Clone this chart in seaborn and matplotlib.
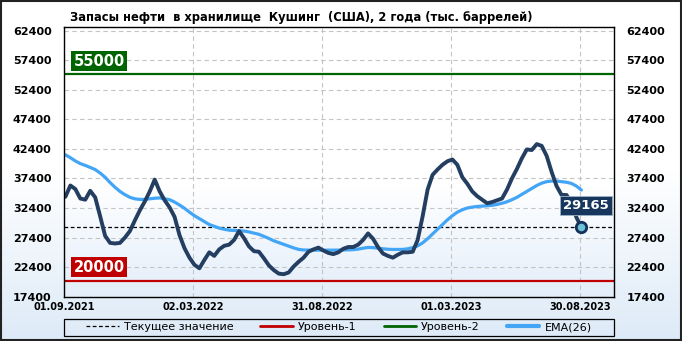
import numpy as np
import pandas as pd
import matplotlib
matplotlib.use("Agg")
import matplotlib.pyplot as plt
import matplotlib.dates as mdates
from matplotlib.lines import Line2D
from matplotlib.patches import Rectangle
from matplotlib.colors import LinearSegmentedColormap
import seaborn as sns

# ---------------- data ----------------
title = "Запасы нефти  в хранилище  Кушинг  (США), 2 года (тыс. баррелей)"

stocks = [
    34300, 36200, 35600, 34000, 33800, 35300, 34200, 31000, 27700, 26500,
    26400, 26500, 27400, 28500, 30300, 32000, 33500, 35200, 37200, 35200,
    33700, 32500, 30900, 27800, 25600, 24000, 22800, 22200, 23600, 24900,
    24300, 25400, 26000, 26200, 27000, 28500, 27300, 25900, 25100, 25000,
    23900, 22700, 21900, 21300, 21200, 21500, 22500, 23300, 24000, 25000,
    25400, 25700, 25200, 24800, 24600, 24900, 25500, 25800, 25800, 26200,
    27000, 28100, 27200, 25800, 24700, 24300, 24000, 24500, 24900, 24900,
    25000, 27000, 31000, 35500, 38000, 38900, 39700, 40300, 40600, 39700,
    37600, 36500, 35200, 34400, 33800, 33200, 33400, 33700, 34000, 35500,
    37400, 39000, 40800, 42300, 42200, 43200, 42900, 41200, 38500, 36100,
    34600, 34600, 33200, 30800, 29165,
]

ema26 = [
    41400, 40900, 40350, 39900, 39600, 39250, 38900, 38300, 37600, 36700,
    35900, 35200, 34650, 34200, 33950, 33850, 33850, 33950, 34050, 34100,
    33950, 33800, 33400, 32900, 32350, 31700, 31100, 30600, 30100, 29600,
    29300, 29000, 28800, 28650, 28600, 28550, 28500, 28350, 28150, 27950,
    27600, 27250, 26850, 26550, 26250, 25950, 25650, 25400, 25300, 25280,
    25270, 25270, 25270, 25270, 25270, 25280, 25300, 25320, 25350, 25450,
    25600, 25730, 25700, 25600, 25500, 25420, 25390, 25390, 25400, 25500,
    25700, 26000, 26500, 27200, 28000, 28800, 29600, 30400, 31100, 31700,
    32100, 32400, 32550, 32650, 32720, 32770, 32850, 33000, 33200, 33450,
    33800, 34200, 34700, 35200, 35700, 36200, 36600, 36850, 36950, 36950,
    36850, 36750, 36550, 36100, 35430,
]

first_date = "2021-09-03"
tick_dates = ["2021-09-01", "2022-03-02", "2022-08-31", "2023-03-01", "2023-08-30"]
tick_labels = ["01.09.2021", "02.03.2022", "31.08.2022", "01.03.2023", "30.08.2023"]
y_ticks = [17400, 22400, 27400, 32400, 37400, 42400, 47400, 52400, 57400, 62400]
level1 = 20000
level2 = 55000
current_value = stocks[-1]
legend_labels = ["Текущее значение", "Уровень-1", "Уровень-2", "EMA(26)"]

dates = pd.date_range(first_date, periods=len(stocks), freq="7D")
df = pd.DataFrame({"date": dates, "stocks": stocks, "ema": ema26})

# ---------------- style ----------------
sns.set_style("white")
plt.rcParams["font.family"] = ["DejaVu Sans"]
plt.rcParams["text.color"] = "black"
plt.rcParams["xtick.color"] = "black"
plt.rcParams["ytick.color"] = "black"

W, H = 682, 341
fig = plt.figure(figsize=(W / 100, H / 100), dpi=100)

# figure background gradient
bg_ax = fig.add_axes([0, 0, 1, 1], zorder=-10)
fig_cmap = LinearSegmentedColormap.from_list("figbg", ["#FFFFFF", "#FFFFFF", "#DDEAF7"])
grad = np.linspace(0, 1, 256).reshape(-1, 1)
bg_ax.imshow(grad, aspect="auto", cmap=fig_cmap, extent=[0, 1, 0, 1], origin="upper")
bg_ax.set_axis_off()

ax_l, ax_r, ax_t, ax_b = 64 / W, 614 / W, 1 - 27 / H, 1 - 296.7 / H
ax = fig.add_axes([ax_l, ax_b, ax_r - ax_l, ax_t - ax_b])

x0 = pd.Timestamp("2021-09-01")
x1 = x0 + pd.Timedelta(days=776)

# plot-area gradient
pa_cmap = LinearSegmentedColormap.from_list("pabg", [(0, "#FFFFFF"), (0.58, "#FFFFFF"), (1, "#E3EEFA")])
ax.imshow(grad, aspect="auto", cmap=pa_cmap,
          extent=[mdates.date2num(x0), mdates.date2num(x1), 17400, 63000],
          origin="upper", zorder=0)
ax.set_xlim(x0, x1)
ax.set_ylim(17400, 63000)

# grid
for yv in y_ticks:
    ax.axhline(yv, color="#C4C4C4", lw=0.8, ls=(0, (4, 3)), zorder=1)
for td in tick_dates:
    ax.axvline(pd.Timestamp(td), color="#C4C4C4", lw=0.8, ls=(0, (4, 3)), zorder=1)

# levels
ax.axhline(level1, color="#C00000", lw=1.6, zorder=2)
ax.axhline(level2, color="#006400", lw=1.6, zorder=2)
ax.axhline(current_value, color="black", lw=0.9, ls=(0, (3, 2)), zorder=2)

# series
sns.lineplot(data=df, x="date", y="ema", ax=ax, color="#42A5F5", lw=2.3, zorder=3)
sns.lineplot(data=df, x="date", y="stocks", ax=ax, color="#233E60", lw=2.8, zorder=4)
ax.plot(dates[-1], stocks[-1], marker="o", ms=7.5, mfc="#6FC2D6", mec="#13305A", mew=2, zorder=5)


def fig_xy(px, py):
    return px / W, 1 - py / H


# level tags
tx, ty = fig_xy(99, 61)
fig.text(tx, ty, f"{level2}", ha="center", va="center", color="white", fontsize=10.5,
         fontweight="bold", bbox=dict(boxstyle="square,pad=0.18", fc="#006400", ec="none"), zorder=10)
tx, ty = fig_xy(99, 267)
fig.text(tx, ty, f"{level1}", ha="center", va="center", color="white", fontsize=10.5,
         fontweight="bold", bbox=dict(boxstyle="square,pad=0.18", fc="#C00000", ec="none"), zorder=10)
tx, ty = fig_xy(586, 205.5)
fig.text(tx, ty, f"{current_value}", ha="center", va="center", color="white", fontsize=9.5,
         fontweight="bold", bbox=dict(boxstyle="square,pad=0.25", fc="#17365D", ec="#9FB3C8", lw=0.6), zorder=10)

# ticks
ax.set_yticks(y_ticks)
ax.set_yticklabels([str(v) for v in y_ticks])
ax.set_xticks([pd.Timestamp(t) for t in tick_dates])
ax.set_xticklabels(tick_labels)
ax.tick_params(axis="y", which="both", length=0, labelsize=8, labelcolor="black",
               left=True, right=True, labelleft=True, labelright=True)
ax.tick_params(axis="x", length=0, pad=4, labelsize=7, labelcolor="black")
for lab in ax.get_yticklabels() + ax.get_xticklabels():
    lab.set_fontweight("bold")
for t in ax.yaxis.get_major_ticks():
    t.label1.set_fontweight("bold")
    t.label2.set_fontweight("bold")
    t.label2.set_fontsize(8)
    t.set_pad(9)
ax.set_xlabel("")
ax.set_ylabel("")
for s in ax.spines.values():
    s.set_color("black")
    s.set_linewidth(1.0)
    s.set_zorder(6)

# title
tx, ty = fig_xy(70, 17)
fig.text(tx, ty, title, ha="left", va="center", fontsize=8.3, fontweight="bold", color="black")

# legend frame + legend
lb_t, lb_b = 318.5, 335.5
fig.patches.append(Rectangle((ax_l, 1 - lb_b / H), ax_r - ax_l, (lb_b - lb_t) / H,
                             transform=fig.transFigure, fill=False, ec="black", lw=0.9))
handles = [
    Line2D([], [], color="black", lw=0.9, ls=(0, (3, 2))),
    Line2D([], [], color="#C00000", lw=2),
    Line2D([], [], color="#006400", lw=2),
    Line2D([], [], color="#42A5F5", lw=3),
]
fig.legend(handles, legend_labels, loc="center", bbox_to_anchor=((ax_l + ax_r) / 2, 1 - 327 / H),
           ncol=4, frameon=False, fontsize=8, handlelength=2.9, handletextpad=0.5,
           columnspacing=2.4, borderpad=0, labelcolor="black")

# figure border
fig.patches.append(Rectangle((0.002, 0.003), 0.996, 0.994, transform=fig.transFigure,
                             fill=False, ec="#222222", lw=1.5))

fig.savefig("out.png", dpi=100)
